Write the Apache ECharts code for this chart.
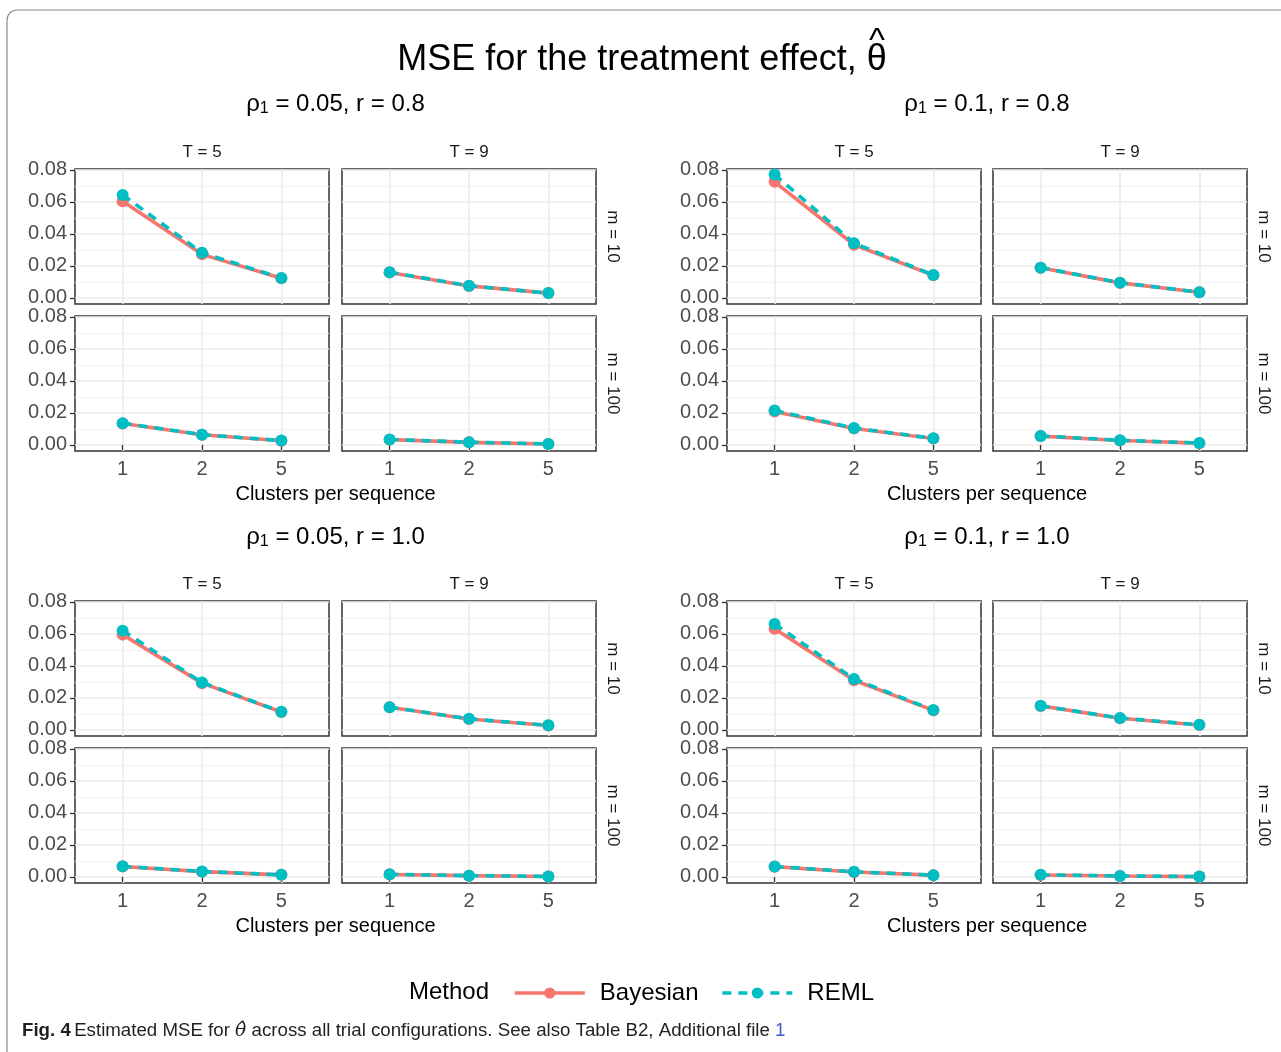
<!DOCTYPE html>
<html>
<head>
<meta charset="utf-8">
<script src="https://cdn.jsdelivr.net/npm/echarts@6/dist/echarts.min.js"></script>
<style>
  html, body { margin: 0; padding: 0; background: #fff; }
  #chart { width: 1281px; height: 1052px; }
</style>
</head>
<body>
<div id="chart"></div>
<script>
// ---- data ----
const clusterLabels = ['1', '2', '5'];
const yTicks = [0, 0.02, 0.04, 0.06, 0.08];
const yMinorTicks = [0.01, 0.03, 0.05, 0.07];
const tLabels = ['T = 5', 'T = 9'];
const mLabels = ['m = 10', 'm = 100'];
const rhoLabels = ['0.05', '0.1', '0.05', '0.1'];
const rLabels = ['0.8', '0.8', '1.0', '1.0'];

// panel order inside each group: [m=10 T=5], [m=10 T=9], [m=100 T=5], [m=100 T=9]
const bayesRho005R08 = [[0.0604, 0.0272, 0.0123], [0.0159, 0.0075, 0.0030], [0.0134, 0.0063, 0.0026], [0.0033, 0.0016, 0.0006]];
const remlRho005R08  = [[0.0643, 0.0282, 0.0124], [0.0160, 0.0076, 0.0030], [0.0136, 0.0064, 0.0027], [0.0034, 0.0017, 0.0006]];
const bayesRho01R08  = [[0.0725, 0.0332, 0.0141], [0.0188, 0.0094, 0.0035], [0.0208, 0.0102, 0.0040], [0.0055, 0.0028, 0.0011]];
const remlRho01R08   = [[0.0770, 0.0342, 0.0143], [0.0189, 0.0095, 0.0036], [0.0215, 0.0105, 0.0041], [0.0056, 0.0029, 0.0012]];
const bayesRho005R10 = [[0.0595, 0.0292, 0.0112], [0.0141, 0.0068, 0.0028], [0.0065, 0.0033, 0.0013], [0.0015, 0.0008, 0.0003]];
const remlRho005R10  = [[0.0620, 0.0296, 0.0113], [0.0142, 0.0069, 0.0029], [0.0066, 0.0034, 0.0013], [0.0016, 0.0008, 0.0003]];
const bayesRho01R10  = [[0.0632, 0.0310, 0.0122], [0.0150, 0.0073, 0.0031], [0.0064, 0.0031, 0.0011], [0.0012, 0.0006, 0.0002]];
const remlRho01R10   = [[0.0662, 0.0318, 0.0124], [0.0151, 0.0074, 0.0032], [0.0065, 0.0032, 0.0011], [0.0013, 0.0006, 0.0002]];

const bayesGroups = [bayesRho005R08, bayesRho01R08, bayesRho005R10, bayesRho01R10];
const remlGroups = [remlRho005R08, remlRho01R08, remlRho005R10, remlRho01R10];

// ---- layout ----
const FONT = "'Liberation Sans', Arial, sans-serif";
const colLeft = [[75, 342], [727, 993]];
const rowTop = [[169, 316], [601, 748]];
const panelW = 254;
const panelH = 135;
const RED = '#F8766D';
const TEAL = '#00BFC4';

const chart = echarts.init(document.getElementById('chart'));

const grids = [];
const xAxes = [];
const yAxes = [];
const series = [];
const graphics = [];

// figure frame
graphics.push({
  type: 'rect', z: -10, silent: true,
  shape: { x: 7, y: 10, width: 1320, height: 1100, r: 10 },
  style: { fill: 'none', stroke: '#8a8a8a', lineWidth: 1.2 }
});

// main title
graphics.push({
  type: 'text', x: 642, y: 60,
  style: { text: 'MSE for the treatment effect, θ', font: `36px ${FONT}`, fill: '#000', align: 'center', verticalAlign: 'middle' }
});
graphics.push({
  type: 'text', x: 877, y: 42,
  style: { text: '^', font: `34px ${FONT}`, fill: '#000', align: 'center', verticalAlign: 'middle' }
});

for (let g = 0; g < 4; g++) {
  const gx = g % 2;
  const gy = Math.floor(g / 2);
  const cx = (colLeft[gx][0] + colLeft[gx][1] + panelW) / 2;

  // group title with subscript
  graphics.push({
    type: 'text', x: cx, y: gy === 0 ? 104 : 537,
    style: {
      text: `{a|ρ}{s|1}{a| = ${rhoLabels[g]}, r = ${rLabels[g]}}`,
      align: 'center', verticalAlign: 'middle',
      rich: {
        a: { fontSize: 24, fontFamily: FONT, fill: '#000', lineHeight: 26 },
        s: { fontSize: 16, fontFamily: FONT, fill: '#000', lineHeight: 14, verticalAlign: 'bottom' }
      }
    }
  });
  // x axis title
  graphics.push({
    type: 'text', x: cx, y: gy === 0 ? 494 : 926,
    style: { text: 'Clusters per sequence', font: `20px ${FONT}`, fill: '#000', align: 'center', verticalAlign: 'middle' }
  });

  for (let r = 0; r < 2; r++) {
    for (let c = 0; c < 2; c++) {
      const p = r * 2 + c;
      const gi = g * 4 + p;
      const left = colLeft[gx][c];
      const top = rowTop[gy][r];

      if (r === 0) {
        graphics.push({
          type: 'text', x: left + panelW / 2, y: top - 17,
          style: { text: tLabels[c], font: `17px ${FONT}`, fill: '#1a1a1a', align: 'center', verticalAlign: 'middle' }
        });
      }
      if (c === 1) {
        graphics.push({
          type: 'text', x: left + panelW + 17, y: top + panelH / 2, rotation: -Math.PI / 2,
          style: { text: mLabels[r], font: `17px ${FONT}`, fill: '#1a1a1a', align: 'center', verticalAlign: 'middle' }
        });
      }

      grids.push({
        left: left, top: top, width: panelW, height: panelH,
        show: true, borderColor: '#333', borderWidth: 1.5, backgroundColor: 'transparent'
      });

      xAxes.push({
        type: 'value', gridIndex: gi, min: 0.4, max: 3.6,
        axisLine: { show: false },
        axisTick: { show: r === 1, length: 5, lineStyle: { color: '#333', width: 1.3 }, customValues: [1, 2, 3] },
        axisLabel: {
          show: r === 1, customValues: [1, 2, 3], margin: 8,
          formatter: v => clusterLabels[Math.round(v) - 1],
          fontSize: 20, fontFamily: FONT, color: '#4D4D4D'
        },
        splitLine: { show: true, lineStyle: { color: '#EBEBEB', width: 1.6 } }
      });

      yAxes.push({
        type: 'value', gridIndex: gi, min: -0.0038, max: 0.0805,
        axisLine: { show: false },
        axisTick: { show: c === 0, length: 5, lineStyle: { color: '#333', width: 1.3 }, customValues: yTicks },
        axisLabel: {
          show: c === 0, customValues: yTicks, margin: 8,
          formatter: v => v.toFixed(2),
          fontSize: 20, fontFamily: FONT, color: '#4D4D4D'
        },
        splitLine: { show: true, lineStyle: { color: '#EBEBEB', width: 1.6 } }
      });
      yAxes.push({
        type: 'value', gridIndex: gi, min: -0.0038, max: 0.0805, position: 'left',
        axisLine: { show: false },
        axisTick: { show: false, customValues: yMinorTicks },
        axisLabel: { show: false, customValues: yMinorTicks },
        splitLine: { show: true, lineStyle: { color: '#F2F2F2', width: 0.9 } }
      });

      series.push({
        type: 'line', name: 'Bayesian', xAxisIndex: gi, yAxisIndex: gi * 2,
        data: bayesGroups[g][p].map((v, k) => [k + 1, v]),
        symbol: 'circle', symbolSize: 12, clip: false, z: 3,
        lineStyle: { color: RED, width: 3.6 }, itemStyle: { color: RED }
      });
      series.push({
        type: 'line', name: 'REML', xAxisIndex: gi, yAxisIndex: gi * 2,
        data: remlGroups[g][p].map((v, k) => [k + 1, v]),
        symbol: 'circle', symbolSize: 12, clip: false, z: 4,
        lineStyle: { color: TEAL, width: 3.6, type: [9, 7] }, itemStyle: { color: TEAL }
      });
    }
  }
}

// legend title
graphics.push({
  type: 'text', x: 449, y: 992,
  style: { text: 'Method', font: `24px ${FONT}`, fill: '#000', align: 'center', verticalAlign: 'middle' }
});

// caption
graphics.push({
  type: 'text', x: 22, y: 1031,
  style: {
    text: '{b|Fig. 4} {n|Estimated MSE for }{i|θ̂}{n| across all trial configurations. See also Table B2, Additional file }{l|1}',
    verticalAlign: 'middle',
    rich: {
      b: { fontSize: 18.7, fontWeight: 'bold', fontFamily: FONT, fill: '#231f20' },
      n: { fontSize: 18.7, fontFamily: FONT, fill: '#231f20' },
      i: { fontSize: 18.7, fontStyle: 'italic', fontFamily: "'DejaVu Serif', serif", fill: '#231f20' },
      l: { fontSize: 18.7, fontFamily: FONT, fill: '#3a5fcd' }
    }
  }
});

chart.setOption({
  animation: false,
  backgroundColor: '#fff',
  grid: grids,
  xAxis: xAxes,
  yAxis: yAxes,
  series: series,
  legend: {
    data: ['Bayesian', 'REML'],
    left: 508, top: 976,
    itemWidth: 70, itemHeight: 14, itemGap: 22,
    lineStyle: { width: 3.6 },
    textStyle: { fontSize: 24, fontFamily: FONT, color: '#000', padding: [0, 0, 0, 10] }
  },
  graphic: graphics
});
</script>
</body>
</html>
